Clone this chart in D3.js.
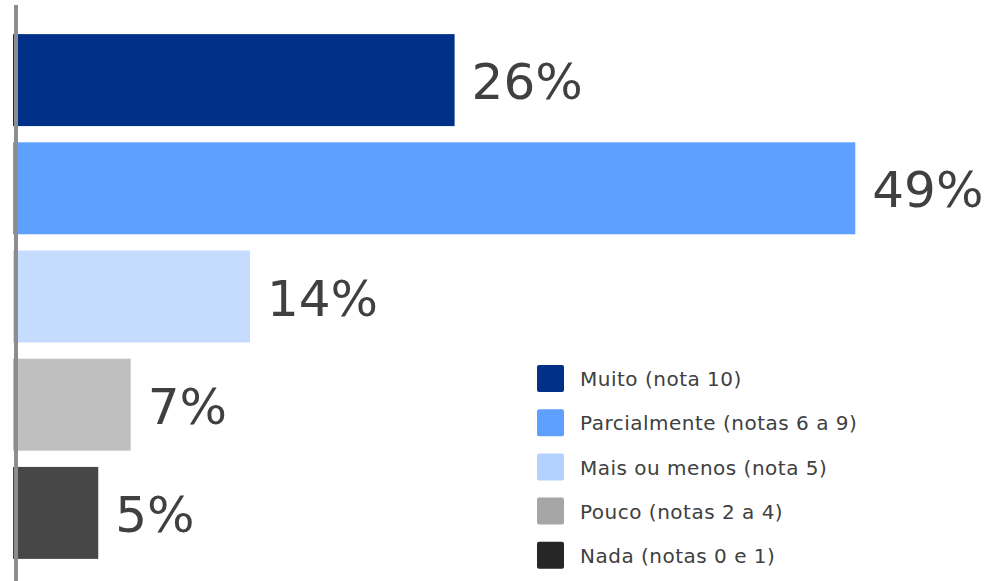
<!DOCTYPE html>
<html>
<head>
<meta charset="utf-8">
<script src="https://cdn.jsdelivr.net/npm/d3@7"></script>
<style>
  body { margin: 0; background: #fff; }
  svg { display: block; }
</style>
</head>
<body>
<svg id="chart" width="998" height="581"></svg>
<script>
// dados
var categorias = ["Muito (nota 10)", "Parcialmente (notas 6 a 9)", "Mais ou menos (nota 5)", "Pouco (notas 2 a 4)", "Nada (notas 0 e 1)"];
var valores = [25.9, 49.4, 13.9, 6.9, 5.0];
var coresBarra = ["#003087", "#5fa0ff", "#c5dcff", "#bfbfbf", "#474747"];
var coresLegenda = ["#003087", "#5fa0ff", "#b4d2ff", "#a6a6a6", "#262626"];

var svg = d3.select("#chart");

var x = d3.scaleLinear()
  .domain([0, 50])
  .range([13, 13 + 50 * 17.05]);

var y = d3.scaleBand()
  .domain(categorias)
  .range([26, 567])
  .paddingInner(0.15)
  .paddingOuter(0.075);

var fmt = function(v) { return d3.format(".0f")(v) + "%"; };

// barras
svg.selectAll("rect.bar")
  .data(valores)
  .enter().append("rect")
  .attr("class", "bar")
  .attr("x", x(0))
  .attr("y", function(d, i) { return y(categorias[i]); })
  .attr("width", function(d) { return x(d) - x(0); })
  .attr("height", y.bandwidth())
  .attr("fill", function(d, i) { return coresBarra[i]; });

// rotulos
svg.selectAll("text.val")
  .data(valores)
  .enter().append("text")
  .attr("class", "val")
  .attr("x", function(d) { return x(d) + 17; })
  .attr("y", function(d, i) { return y(categorias[i]) + y.bandwidth() / 2; })
  .attr("dy", "0.38em")
  .attr("font-family", "DejaVu Sans, sans-serif")
  .attr("font-size", 50)
  .attr("fill", "#404040")
  .text(fmt);

// eixo
svg.append("line")
  .attr("x1", 16).attr("x2", 16)
  .attr("y1", 5).attr("y2", 581)
  .attr("stroke", "#8a8d91")
  .attr("stroke-width", 4);

// legenda
var leg = svg.append("g").attr("transform", "translate(537,365)");
var item = leg.selectAll("g")
  .data(categorias)
  .enter().append("g")
  .attr("transform", function(d, i) { return "translate(0," + (i * 44.2) + ")"; });

item.append("rect")
  .attr("width", 27)
  .attr("height", 27)
  .attr("rx", 2)
  .attr("fill", function(d, i) { return coresLegenda[i]; });

item.append("text")
  .attr("x", 43)
  .attr("y", 14)
  .attr("dy", "0.36em")
  .attr("font-family", "DejaVu Sans, sans-serif")
  .attr("font-size", 20)
  .attr("letter-spacing", 0.5)
  .attr("fill", "#404040")
  .text(function(d) { return d; });
</script>
</body>
</html>
